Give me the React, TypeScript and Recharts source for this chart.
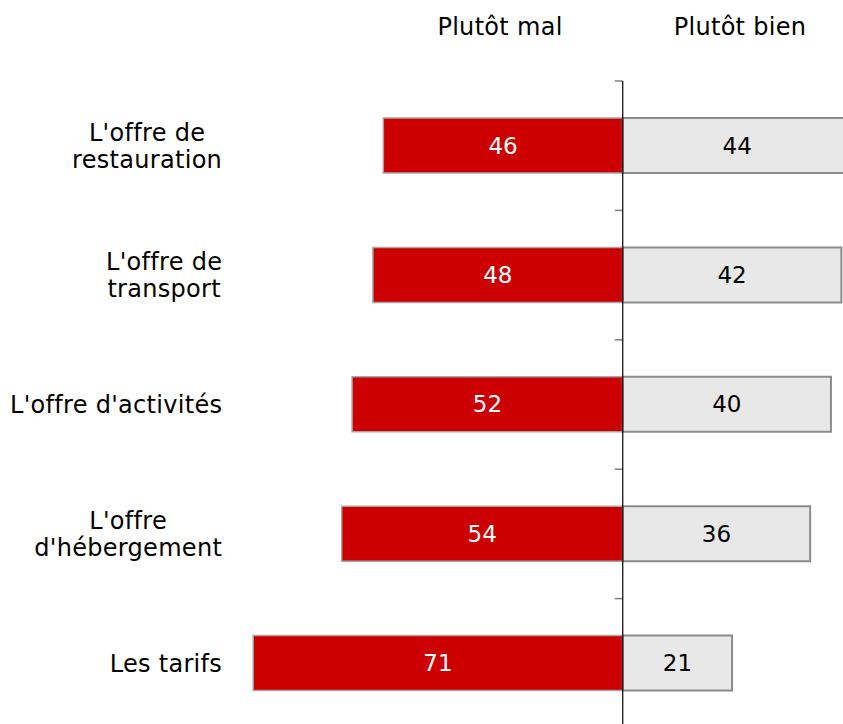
import { BarChart, Bar, XAxis, YAxis, ReferenceLine, LabelList } from "recharts";

// ── Data ──────────────────────────────────────────────────────────────────
const categories = [
  "L'offre de\nrestauration",
  "L'offre de\ntransport",
  "L'offre d'activités",
  "L'offre\nd'hébergement",
  "Les tarifs",
];
const malValues = [46, 48, 52, 54, 71];
const bienValues = [44, 42, 40, 36, 21];
const seriesNames = ["Plutôt mal", "Plutôt bien"];

const data = categories.map((cat, i) => ({
  cat,
  mal: -malValues[i],
  bien: bienValues[i],
}));

// ── Style ─────────────────────────────────────────────────────────────────
const FONT = "'DejaVu Sans', Verdana, sans-serif";
const FONT_SIZE = 24;
const NUM_SIZE = 23;
const LS = 0.3;
const LINE_H = 27;
const colorMal = "#CC0000";
const colorBien = "#E8E8E8";

let ctx: CanvasRenderingContext2D | null = null;
function measure(s: string) {
  if (!ctx) ctx = document.createElement("canvas").getContext("2d");
  if (!ctx) return s.length * 13;
  ctx.font = `${FONT_SIZE}px 'DejaVu Sans'`;
  return ctx.measureText(s).width + LS * (s.length - 1);
}

function CategoryTick({ x, y, payload }: any) {
  const lines: string[] = String(payload.value).split("\n");
  const maxW = Math.max(...lines.map(measure));
  const cx = x - maxW / 2;
  return (
    <text
      x={cx}
      y={y}
      textAnchor="middle"
      fontFamily={FONT}
      fontSize={FONT_SIZE}
      letterSpacing={LS}
      fill="#000"
    >
      {lines.map((l, i) => (
        <tspan key={i} x={cx} y={y + (i - (lines.length - 1) / 2) * LINE_H} dy="0.35em">
          {l}
        </tspan>
      ))}
    </text>
  );
}

// zero axis: black line plus small gray ticks at the category boundaries
function ZeroAxis(props: any) {
  const { x1, y1, y2 } = props;
  const top = Math.min(y1, y2);
  const bottom = Math.max(y1, y2);
  const n = categories.length;
  const step = (bottom - top) / n;
  const ticks = Array.from({ length: n + 1 }, (_, i) => top + i * step);
  return (
    <g>
      {ticks.map((ty, i) => (
        <line key={i} x1={x1 - 8} x2={x1} y1={ty} y2={ty} stroke="#808080" strokeWidth={1.5} />
      ))}
      <line x1={x1} x2={x1} y1={top} y2={bottom} stroke="#000" strokeWidth={1.2} />
    </g>
  );
}

const headerStyle = {
  position: "absolute" as const,
  top: 15,
  transform: "translateX(-50%)",
  fontFamily: FONT,
  fontSize: FONT_SIZE,
  letterSpacing: LS,
  lineHeight: "24px",
  whiteSpace: "nowrap" as const,
  color: "#000",
};

export default function App() {
  return (
    <div
      style={{
        position: "absolute",
        left: 0,
        top: 0,
        width: 843,
        height: 724,
        overflow: "hidden",
        background: "#fff",
      }}
    >
      <div style={{ ...headerStyle, left: 500 }}>{seriesNames[0]}</div>
      <div style={{ ...headerStyle, left: 740 }}>{seriesNames[1]}</div>

      <BarChart
        width={883}
        height={733}
        data={data}
        layout="vertical"
        stackOffset="sign"
        barSize={55}
        margin={{ top: 81, right: 0, left: 8, bottom: 5 }}
      >
        <XAxis type="number" domain={[-72, 50]} hide allowDataOverflow />
        <YAxis
          type="category"
          dataKey="cat"
          width={240}
          axisLine={false}
          tickLine={false}
          tickSize={0}
          tickMargin={26}
          interval={0}
          tick={<CategoryTick />}
        />

        <Bar
          dataKey="mal"
          name={seriesNames[0]}
          stackId="a"
          fill={colorMal}
          stroke="#A6A6A6"
          strokeWidth={1.5}
          isAnimationActive={false}
        >
          <LabelList
            dataKey="mal"
            position="center"
            formatter={(v: any) => Math.abs(Number(v))}
            fill="#fff"
            fontFamily={FONT}
            fontSize={NUM_SIZE}
          />
        </Bar>
        <Bar
          dataKey="bien"
          name={seriesNames[1]}
          stackId="a"
          fill={colorBien}
          stroke="#8C8C8C"
          strokeWidth={2}
          isAnimationActive={false}
        >
          <LabelList
            dataKey="bien"
            position="center"
            fill="#000"
            fontFamily={FONT}
            fontSize={NUM_SIZE}
          />
        </Bar>

        <ReferenceLine x={0} stroke="#000" shape={(p: any) => <ZeroAxis {...p} />} />
      </BarChart>
    </div>
  );
}
